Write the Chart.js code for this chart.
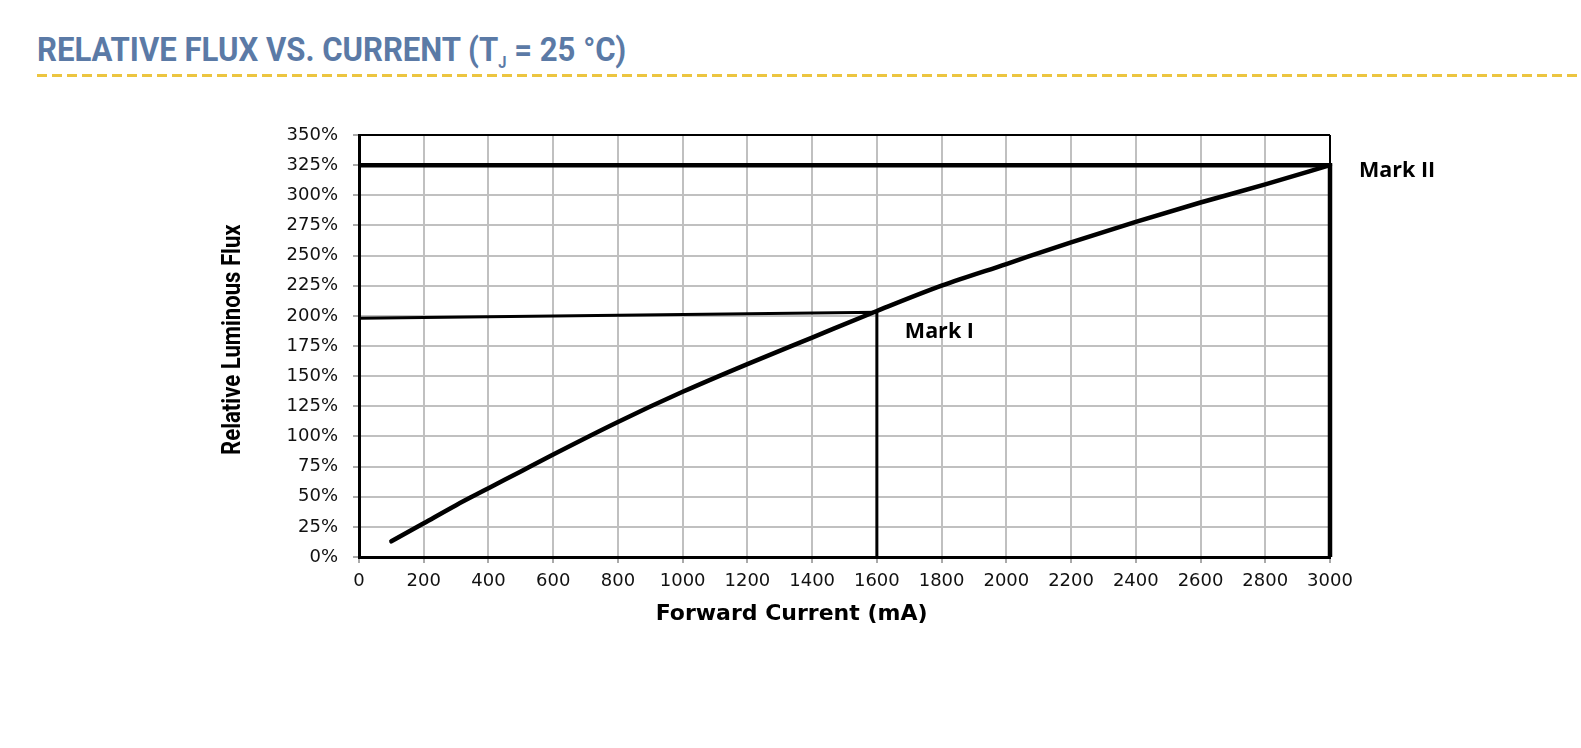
<!DOCTYPE html>
<html>
<head>
<meta charset="utf-8">
<script src="https://cdn.jsdelivr.net/npm/chart.js@4.4.1/dist/chart.umd.min.js"></script>
<style>
  html, body { margin: 0; padding: 0; background: #fff; }
  #wrap { position: relative; width: 1581px; height: 748px; overflow: hidden; }
  #title {
    position: absolute; left: 37px; top: 29px;
    font-family: Roboto, sans-serif; font-weight: 700; font-size: 34px;
    color: #5b7aa6; white-space: nowrap;
    transform: scaleX(0.915); transform-origin: left top;
  }
  #title sub { font-size: 16px; vertical-align: -7px; }
  #rule {
    position: absolute; left: 37px; top: 74px; width: 1544px; height: 3px;
    background: repeating-linear-gradient(to right, #ecc540 0 10px, transparent 10px 15px);
  }
  #chart { position: absolute; left: 0; top: 0; }
</style>
</head>
<body>
<div id="wrap">
  <div id="title">RELATIVE FLUX VS. CURRENT (T<sub>J</sub> = 25 °C)</div>
  <div id="rule"></div>
  <canvas id="chart" width="1581" height="748"></canvas>
</div>
<script>
// forward current (mA) and relative flux (%)
const current = [100, 200, 300, 400, 500, 600, 800, 1000, 1200, 1400, 1600, 1800, 2000, 2200, 2400, 2600, 2800, 3000];
const flux = [13, 28, 43, 57, 71, 85, 112, 137, 160, 182, 204, 225, 243, 261, 278, 294, 309, 325];

// guide lines to the marks
const markICurrent = [0, 1600, 1600];
const markIFlux = [198, 203, 0];
const markIICurrent = [0, 3000, 3000];
const markIIFlux = [325, 325, 0];

const xTicks = { min: 0, max: 3000, step: 200 };
const yTicks = { min: 0, max: 350, step: 25 };

function toPoints(xs, ys) {
    return xs.map((x, i) => ({ x: x, y: ys[i] }));
}

// axis titles and the mark labels, drawn by hand so they can sit where the original has them
const extraText = {
    id: 'extraText',
    afterDatasetsDraw(chart) {
        const ctx = chart.ctx;
        const xs = chart.scales.x, ys = chart.scales.y;
        const area = chart.chartArea;
        ctx.save();
        ctx.fillStyle = '#000';
        ctx.textBaseline = 'middle';

        ctx.font = 'bold 21.5px "Open Sans", sans-serif';
        ctx.textAlign = 'left';
        ctx.fillText('Mark II', xs.getPixelForValue(3000) + 29, ys.getPixelForValue(325) + 6);
        ctx.fillText('Mark I', xs.getPixelForValue(1600) + 28, ys.getPixelForValue(200) + 16);

        // x title
        ctx.textAlign = 'center';
        ctx.font = 'bold 22px "DejaVu Sans", sans-serif';
        ctx.fillText('Forward Current (mA)', area.left + 0.4455 * (area.right - area.left), area.bottom + 57);

        // y title, a bit condensed
        ctx.save();
        ctx.translate(area.left - 125, area.top + 0.485 * (area.bottom - area.top));
        ctx.rotate(-Math.PI / 2);
        ctx.scale(0.885, 1);
        ctx.font = 'bold 25px Roboto, sans-serif';
        ctx.fillText('Relative Luminous Flux', 0, 0);
        ctx.restore();

        ctx.restore();
    }
};

const ctx = document.getElementById('chart').getContext('2d');
const chart = new Chart(ctx, {
    type: 'line',
    data: {
        datasets: [{
            label: 'Relative Luminous Flux',
            data: toPoints(current, flux),
            borderColor: '#000',
            borderWidth: 4.5,
            borderCapStyle: 'round',
            pointRadius: 0,
            cubicInterpolationMode: 'monotone',
            clip: false
        }, {
            label: 'Mark I',
            data: toPoints(markICurrent, markIFlux),
            borderColor: '#000',
            borderWidth: 3,
            pointRadius: 0,
            tension: 0,
            clip: false
        }, {
            label: 'Mark II',
            data: toPoints(markIICurrent, markIIFlux),
            borderColor: '#000',
            borderWidth: 4.5,
            pointRadius: 0,
            tension: 0,
            clip: false
        }]
    },
    options: {
        responsive: false,
        animation: false,
        layout: { padding: { left: 219, right: 251, top: 135, bottom: 120 } },
        plugins: {
            legend: { display: false },
            tooltip: { enabled: false }
        },
        scales: {
            x: {
                type: 'linear',
                min: xTicks.min,
                max: xTicks.max,
                afterFit: (s) => { s.height = 71; },
                ticks: {
                    stepSize: xTicks.step,
                    padding: 8,
                    color: '#111',
                    font: { family: '"DejaVu Sans"', size: 18 },
                    maxRotation: 0,
                    callback: (v) => String(v)
                },
                grid: {
                    color: (c) => (c.tick && c.tick.value === 3000) ? '#000' : '#c0c0c0',
                    lineWidth: 2,
                    tickLength: 6,
                    tickColor: '#555',
                    tickWidth: 1
                },
                border: { color: '#000', width: 3 }
            },
            y: {
                min: yTicks.min,
                max: yTicks.max,
                afterFit: (s) => { s.width = 140; },
                ticks: {
                    stepSize: yTicks.step,
                    padding: 15,
                    color: '#111',
                    font: { family: '"DejaVu Sans"', size: 18 },
                    callback: (v) => v + '%'
                },
                grid: {
                    color: (c) => (c.tick && c.tick.value === 350) ? '#000' : '#c0c0c0',
                    lineWidth: 2,
                    tickLength: 6,
                    tickColor: '#555',
                    tickWidth: 1
                },
                border: { color: '#000', width: 3 }
            }
        }
    },
    plugins: [extraText]
});
</script>
</body>
</html>
